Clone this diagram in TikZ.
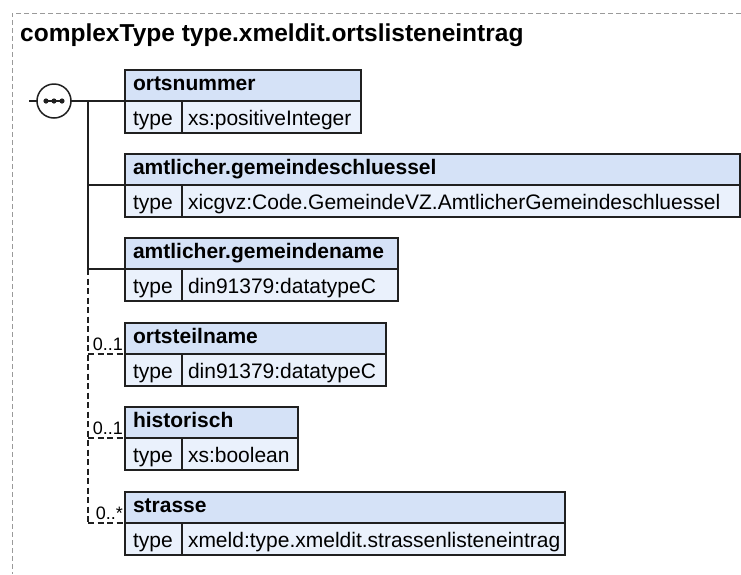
\documentclass[tikz,border=0pt]{standalone}
\usepackage{fontspec}
\setmainfont{Liberation Sans}
\usetikzlibrary{calc}
\definecolor{hdrblue}{HTML}{D5E2F7}
\definecolor{rowblue}{HTML}{EAF1FC}
\definecolor{framegray}{HTML}{9A9A9A}
\definecolor{edgec}{HTML}{202020}
\tikzset{
  boxbase/.style={draw=edgec, line width=1.4pt, rectangle, inner xsep=8pt, inner ysep=0pt, outer sep=0pt, align=left},
  hdr/.style={boxbase, fill=hdrblue, minimum height=31pt, text height=15pt, text depth=5pt,
    font=\fontsize{21}{24}\selectfont\bfseries},
  tlab/.style={boxbase, fill=rowblue, minimum height=32pt, minimum width=57pt, text height=19pt, text depth=3pt,
    font=\fontsize{21}{24}\selectfont},
  tval/.style={tlab, minimum width=10pt, inner xsep=6pt},
  conn/.style={draw=edgec, line width=1.4pt},
  optconn/.style={conn, dash pattern=on 6pt off 3.5pt},
  occ/.style={inner sep=0pt, font=\fontsize{18}{20}\selectfont, anchor=base east},
  frameline/.style={draw=framegray, line width=1pt, dash pattern=on 5pt off 3pt},
  seqc/.style={circle, draw=edgec, fill=white, line width=1.5pt, minimum size=34pt, inner sep=0pt, outer sep=0pt},
}
\newcommand\elembox[5]{%
  \pgfmathsetmacro\hw{#3-125}%
  \pgfmathsetmacro\htw{#3-125-16}%
  \pgfmathsetmacro\vw{#3-182}%
  \pgfmathsetmacro\vtw{#3-182-12}%
  \node[hdr, minimum width=\hw pt, text width=\htw pt, anchor=north west] (#1h) at (125,#2) {#4};
  \node[tlab, text width=41pt, anchor=north west] (#1t) at (#1h.south west) {type};
  \node[tval, minimum width=\vw pt, text width=\vtw pt, anchor=north west] (#1v) at (#1t.north east) {#5};
}
\begin{document}
\begin{tikzpicture}[x=1pt,y=-1pt]
\useasboundingbox (0,0) rectangle (741,574);
% outer frame
\coordinate (fr1) at (741,13);
\coordinate (fr2) at (12,13);
\coordinate (fr3) at (12,574);
\draw[frameline] (fr1) -- (fr2) -- (fr3);
% title
\node[anchor=base west, inner sep=0pt, font=\fontsize{24.5}{28}\selectfont\bfseries] (title) at (20,41) {complexType type.xmeldit.ortslisteneintrag};
% sequence compositor and connectors
\coordinate (inp) at (29,101);
\coordinate (j) at (88,101);
\node[seqc] (seq) at (54,101) {};
% elements
\elembox{a}{70}{361}{ortsnummer}{xs:positiveInteger}
\elembox{b}{154}{740}{amtlicher.gemeindeschluessel}{xicgvz:Code.GemeindeVZ.AmtlicherGemeindeschluessel}
\elembox{c}{238}{398}{amtlicher.gemeindename}{din91379:datatypeC}
\elembox{d}{323}{386}{ortsteilname}{din91379:datatypeC}
\elembox{e}{407}{298}{historisch}{xs:boolean}
\elembox{f}{492}{565}{strasse}{xmeld:type.xmeldit.strassenlisteneintrag}
\draw[conn] (inp) -- (seq.west);
\draw[conn] (seq.east) -- (ah.south west);
\draw[conn] (j) -- (j |- ch.south west);
\draw[conn] (j |- bh.south west) -- (bh.south west);
\draw[conn] (j |- ch.south west) -- (ch.south west);
\draw[optconn] (j |- ch.south west) -- (j |- fh.south west);
\draw[optconn] (j |- dh.south west) -- (dh.south west);
\draw[optconn] (j |- eh.south west) -- (eh.south west);
\draw[optconn] (j |- fh.south west) -- (fh.south west);
% dots in the sequence symbol
\draw[conn, line width=1.2pt] ($(seq.center)+(-8,0)$) -- ($(seq.center)+(8,0)$);
\fill[edgec] ($(seq.center)+(-8,0)$) circle (2.6);
\fill[edgec] (seq.center) circle (2.6);
\fill[edgec] ($(seq.center)+(8,0)$) circle (2.6);
% occurrence labels
\node[occ] (od) at ($(dh.south west)+(-2,-3.5)$) {0..1};
\node[occ] (oe) at ($(eh.south west)+(-2,-3.5)$) {0..1};
\node[occ] (of) at ($(fh.south west)+(-2,-3.5)$) {0..*};
\end{tikzpicture}
\end{document}
